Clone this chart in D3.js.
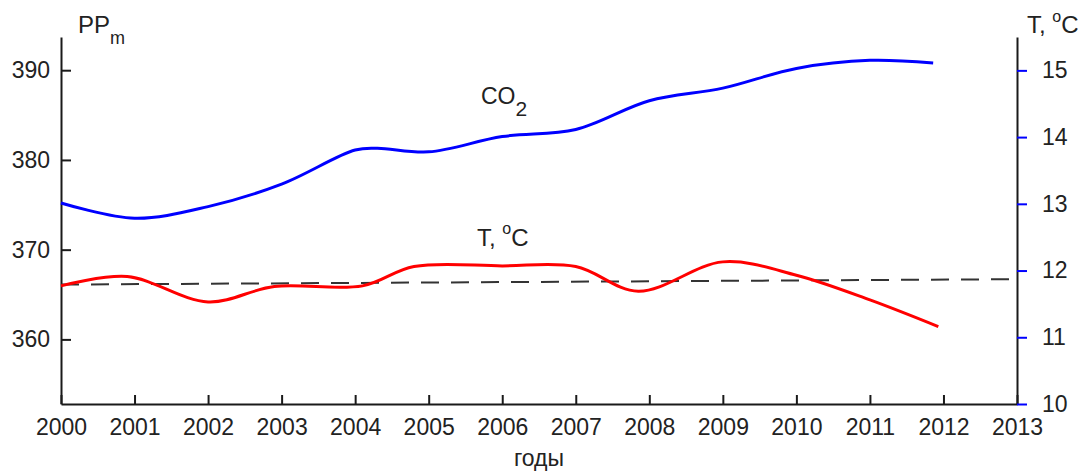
<!DOCTYPE html>
<html>
<head>
<meta charset="utf-8">
<script src="https://cdn.jsdelivr.net/npm/d3@7"></script>
<style>
  body { margin: 0; background: #fff; }
  svg { display: block; font-family: "Liberation Sans", Arial, sans-serif; }
  .axis text { font-size: 23px; fill: #222; font-family: "Liberation Sans", Arial, sans-serif; }
  .axis .domain { stroke: #1a1a1a; stroke-width: 2; }
  .axis line { stroke-width: 2; }
</style>
</head>
<body>
<div id="chart"></div>
<script>
// CO2 concentration, ppm (left axis)
const co2Years = [2000, 2001, 2002, 2003, 2004, 2004.3, 2005, 2006, 2007, 2008, 2009, 2010, 2011, 2011.86];
const co2Values = [375.2, 373.5, 374.8, 377.3, 381.1, 381.3, 380.9, 382.6, 383.4, 386.6, 388.0, 390.2, 391.1, 390.8];

// temperature, degrees C (right axis)
const tempYears = [2000, 2000.9, 2002, 2002.9, 2004.1, 2004.8, 2006, 2007, 2007.85, 2009, 2010, 2011, 2011.93];
const tempValues = [11.77, 11.91, 11.53, 11.76, 11.77, 12.06, 12.07, 12.06, 11.69, 12.13, 11.93, 11.56, 11.16];

// linear trend of temperature (dashed)
const trendYears = [2000, 2013];
const trendValues = [11.79, 11.87];

// tick labels
const yearTicks = d3.range(2000, 2014);
const ppmTicks = [360, 370, 380, 390];
const tempTicks = [10, 11, 12, 13, 14, 15];

function drawChart() {
    const margin = {top: 37, right: 75, bottom: 68, left: 61},
        width = 1092 - margin.left - margin.right,
        height = 472 - margin.top - margin.bottom;

    const svg = d3.select("#chart")
        .append("svg")
        .attr("width", width + margin.left + margin.right)
        .attr("height", height + margin.top + margin.bottom)
        .append("g")
        .attr("transform", `translate(${margin.left},${margin.top})`);

    const x = d3.scaleLinear()
        .domain([2000, 2013])
        .range([0, width]);

    const yL = d3.scaleLinear()
        .domain([352.8, 393.7])
        .range([height, 0]);

    const yR = d3.scaleLinear()
        .domain([10, 15.5])
        .range([height, 0]);

    // bottom axis
    const xAxis = svg.append("g")
        .attr("class", "axis")
        .attr("transform", `translate(0,${height})`)
        .call(d3.axisBottom(x).tickValues(yearTicks).tickFormat(d3.format("d"))
            .tickSize(-9).tickSizeOuter(0).tickPadding(15));
    xAxis.selectAll(".tick line").attr("stroke", "#1a1a1a");

    // left axis
    const lAxis = svg.append("g")
        .attr("class", "axis")
        .call(d3.axisLeft(yL).tickValues(ppmTicks).tickFormat(d3.format("d"))
            .tickSize(-10).tickSizeOuter(0).tickPadding(11));
    lAxis.selectAll(".tick line").attr("stroke", "#1a1a1a");

    // right axis
    const rAxis = svg.append("g")
        .attr("class", "axis")
        .attr("transform", `translate(${width},0)`)
        .call(d3.axisRight(yR).tickValues(tempTicks).tickFormat(d3.format("d"))
            .tickSize(10).tickSizeOuter(0).tickPadding(15));
    rAxis.selectAll(".tick line").attr("stroke", "#0000ff");

    // trend line
    const trendLine = d3.line()
        .x((d, i) => x(trendYears[i]))
        .y(d => yR(d));

    svg.append("path")
        .datum(trendValues)
        .attr("fill", "none")
        .attr("stroke", "#333")
        .attr("stroke-width", 2)
        .attr("stroke-dasharray", "18,12")
        .attr("d", trendLine);

    // CO2 line
    const co2Line = d3.line()
        .x((d, i) => x(co2Years[i]))
        .y(d => yL(d))
        .curve(d3.curveCatmullRom);

    svg.append("path")
        .datum(co2Values)
        .attr("fill", "none")
        .attr("stroke", "#0000ff")
        .attr("stroke-width", 3)
        .attr("d", co2Line);

    // temperature line
    const tempLine = d3.line()
        .x((d, i) => x(tempYears[i]))
        .y(d => yR(d))
        .curve(d3.curveCatmullRom);

    svg.append("path")
        .datum(tempValues)
        .attr("fill", "none")
        .attr("stroke", "#ff0000")
        .attr("stroke-width", 3)
        .attr("d", tempLine);

    // labels (page coordinates)
    const root = d3.select("#chart svg");
    const lbl = root.append("g")
        .attr("fill", "#222")
        .style("font-family", "'Liberation Sans', Arial, sans-serif");

    // PPm
    const ppm = lbl.append("text").attr("x", 78).attr("y", 33).style("font-size", "24px");
    ppm.append("tspan").text("PP");
    ppm.append("tspan").attr("dy", 11).style("font-size", "18px").text("m");

    // T, oC right
    const tr = lbl.append("text").attr("x", 1027).attr("y", 33).style("font-size", "24px");
    tr.append("tspan").text("T, ");
    tr.append("tspan").attr("dy", -11).style("font-size", "16px").text("o");
    tr.append("tspan").attr("dy", 11).text("C");

    // CO2 in plot
    const co2 = lbl.append("text").attr("x", 481).attr("y", 104).style("font-size", "23px");
    co2.append("tspan").text("CO");
    co2.append("tspan").attr("dy", 12).style("font-size", "21px").text("2");

    // T, oC in plot
    const tm = lbl.append("text").attr("x", 477).attr("y", 246).style("font-size", "24px");
    tm.append("tspan").text("T, ");
    tm.append("tspan").attr("dy", -12).style("font-size", "16px").text("o");
    tm.append("tspan").attr("dy", 12).text("C");

    // x axis title
    lbl.append("text")
        .attr("x", margin.left + width / 2)
        .attr("y", 466)
        .attr("text-anchor", "middle")
        .style("font-size", "23px")
        .text("годы");
}

drawChart();
</script>
</body>
</html>
